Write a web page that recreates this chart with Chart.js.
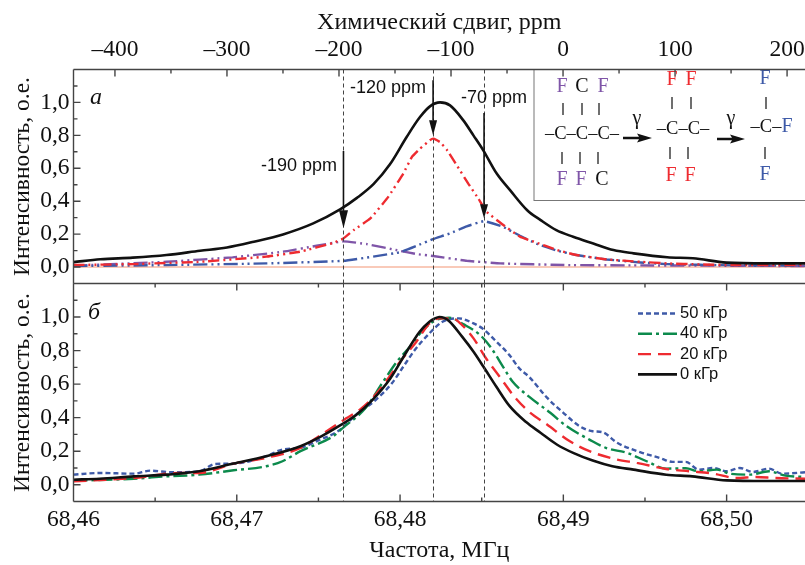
<!DOCTYPE html>
<html>
<head>
<meta charset="utf-8">
<script src="https://cdn.jsdelivr.net/npm/chart.js@4"></script>
<style>
  html, body { margin: 0; padding: 0; background: #fff; overflow: hidden; }
  canvas { position: absolute; left: 0; }
  #panelA { top: 0; }
  #panelB { top: 283px; }
</style>
</head>
<body>
<canvas id="panelA" width="805" height="284"></canvas>
<canvas id="panelB" width="805" height="282"></canvas>
<script>
// panel a: chemical shift, ppm
const ppmTotal = [-437, -413, -384, -354, -324, -300, -276, -250, -223, -199, -184, -169, -154.5, -139.6, -127.7, -118.8, -109.8, -100.9, -89, -80, -71.2, -59.2, -47.3, -32, -20, -6, 9, 27, 45, 63, 93, 116, 146, 182, 216];
const valTotal = [0.03, 0.047, 0.057, 0.073, 0.099, 0.119, 0.154, 0.198, 0.265, 0.35, 0.42, 0.505, 0.624, 0.79, 0.911, 0.976, 1.0, 0.982, 0.891, 0.8, 0.709, 0.568, 0.467, 0.345, 0.285, 0.224, 0.184, 0.143, 0.103, 0.083, 0.059, 0.053, 0.027, 0.022, 0.022];

const ppmMid = [-437, -383, -324, -265, -235, -205, -196, -187, -172, -156, -142.6, -135, -127.7, -118.8, -115.8, -109.8, -103.8, -94.9, -84.6, -75.6, -68.1, -53.3, -38.4, -26, -5, 12, 39, 69, 93, 122, 152, 216];
const valMid = [0.012, 0.018, 0.032, 0.063, 0.093, 0.147, 0.174, 0.224, 0.295, 0.426, 0.568, 0.668, 0.719, 0.77, 0.78, 0.759, 0.713, 0.618, 0.507, 0.416, 0.335, 0.255, 0.184, 0.154, 0.103, 0.073, 0.046, 0.032, 0.022, 0.016, 0.012, 0.012];

const ppmLow = [-437, -354, -265, -196, -146, -131, -116, -101, -86, -70.5, -53.6, -38.4, -23, -5, 12, 39, 69, 93, 152, 216];
const valLow = [0.006, 0.012, 0.022, 0.038, 0.089, 0.128, 0.17, 0.204, 0.247, 0.279, 0.244, 0.19, 0.14, 0.099, 0.073, 0.046, 0.028, 0.018, 0.01, 0.008];

const ppmHigh = [-437, -354, -295, -250, -220, -196, -175, -146, -131, -116, -86, -56, 3, 63, 152, 216];
const valHigh = [0.008, 0.032, 0.059, 0.093, 0.129, 0.156, 0.139, 0.099, 0.079, 0.067, 0.038, 0.022, 0.012, 0.01, 0.008, 0.006];

const zeroPpm = [-437, 216];
const zeroVal = [0, 0];

// panel b: frequency, MHz
const freq0 = [68.46, 68.4616, 68.4637, 68.4657, 68.4677, 68.4698, 68.4718, 68.4739, 68.4752, 68.4763, 68.4773, 68.4783, 68.4794, 68.4804, 68.4812, 68.4818, 68.4821, 68.4824, 68.4827, 68.483, 68.4838, 68.4845, 68.4851, 68.4859, 68.4867, 68.4877, 68.4886, 68.4896, 68.4906, 68.4918, 68.493, 68.4943, 68.4963, 68.4979, 68.5, 68.5024, 68.5048];
const val0 = [0.03, 0.036, 0.05, 0.06, 0.08, 0.126, 0.17, 0.23, 0.29, 0.352, 0.416, 0.505, 0.634, 0.793, 0.912, 0.972, 0.99, 1.0, 0.995, 0.976, 0.883, 0.793, 0.705, 0.584, 0.47, 0.375, 0.31, 0.24, 0.19, 0.144, 0.11, 0.09, 0.06, 0.05, 0.026, 0.022, 0.022];

const freq20 = [68.46, 68.4637, 68.4665, 68.4677, 68.4698, 68.4718, 68.4739, 68.4752, 68.4767, 68.4775, 68.4783, 68.4792, 68.48, 68.481, 68.4818, 68.4824, 68.4832, 68.4838, 68.4845, 68.4852, 68.4861, 68.487, 68.4879, 68.489, 68.4904, 68.4916, 68.4933, 68.4945, 68.4963, 68.4977, 68.4992, 68.5006, 68.5018, 68.503, 68.5048];
const val20 = [0.02, 0.04, 0.07, 0.07, 0.126, 0.16, 0.22, 0.3, 0.396, 0.445, 0.515, 0.624, 0.733, 0.853, 0.962, 0.992, 0.992, 0.952, 0.873, 0.763, 0.644, 0.525, 0.435, 0.359, 0.259, 0.2, 0.15, 0.13, 0.094, 0.08, 0.066, 0.04, 0.046, 0.04, 0.036];

const freq40 = [68.46, 68.4637, 68.4657, 68.4677, 68.4698, 68.4718, 68.4728, 68.4739, 68.4759, 68.4765, 68.4779, 68.4789, 68.4798, 68.4806, 68.4814, 68.4822, 68.483, 68.4839, 68.4849, 68.4856, 68.4863, 68.4869, 68.4879, 68.4892, 68.4902, 68.4916, 68.4926, 68.4939, 68.4951, 68.4963, 68.4975, 68.4983, 68.4994, 68.5002, 68.5014, 68.5026, 68.5036, 68.5048];
const val40 = [0.024, 0.036, 0.05, 0.06, 0.086, 0.11, 0.14, 0.2, 0.289, 0.339, 0.459, 0.605, 0.733, 0.823, 0.922, 0.982, 0.996, 0.956, 0.893, 0.813, 0.704, 0.614, 0.525, 0.429, 0.349, 0.269, 0.22, 0.19, 0.14, 0.096, 0.098, 0.08, 0.09, 0.066, 0.06, 0.08, 0.054, 0.046];

const freq50 = [68.46, 68.4616, 68.4637, 68.4647, 68.4661, 68.4677, 68.4687, 68.4698, 68.4718, 68.4728, 68.4739, 68.4749, 68.4763, 68.4773, 68.4785, 68.4795, 68.4802, 68.4809, 68.4818, 68.4826, 68.4836, 68.4845, 68.4851, 68.4859, 68.4867, 68.4873, 68.4879, 68.489, 68.49, 68.491, 68.4918, 68.4924, 68.4933, 68.4947, 68.4959, 68.4967, 68.4975, 68.4983, 68.4992, 68.5, 68.5008, 68.5016, 68.5026, 68.5034, 68.5048];
const val50 = [0.06, 0.07, 0.066, 0.084, 0.074, 0.08, 0.124, 0.126, 0.17, 0.21, 0.22, 0.26, 0.326, 0.416, 0.505, 0.605, 0.704, 0.803, 0.903, 0.972, 0.992, 0.962, 0.928, 0.853, 0.773, 0.694, 0.644, 0.519, 0.429, 0.349, 0.319, 0.313, 0.25, 0.194, 0.16, 0.136, 0.136, 0.09, 0.1, 0.08, 0.1, 0.076, 0.096, 0.066, 0.074];

const ppmMarks = [-196, -116, -70.5];
const ppmLabels = ['-190 ppm', '-120 ppm', '-70 ppm'];
const legendLabels = ['50 кГр', '40 кГр', '20 кГр', '0 кГр'];

const BLACK = '#111';
const RED = '#ee2b30';
const BLUE = '#3e5aa8';
const PURPLE = '#7f55a8';
const GREEN = '#0c8a4c';
const SERIF = '"Liberation Serif"';
const SANS = '"Liberation Sans"';
const AXIS = '#444';

const bands = { left: 73.5, right: 805 };

function pts(xs, ys) {
  return xs.map((x, i) => ({ x: x, y: ys[i] }));
}

function line(label, xs, ys, color, width, dash, smooth) {
  const d = {
    label: label, data: pts(xs, ys), borderColor: color, borderWidth: width,
    borderDash: dash, pointRadius: 0, tension: 0.1, fill: false,
    borderCapStyle: 'butt'
  };
  if (smooth) d.cubicInterpolationMode = 'monotone';
  return d;
}

function yTick(val) {
  const n = Math.round(val * 10);
  if (n < 0 || n > 10 || n % 2) return '';
  return (n / 10).toFixed(1).replace('.', ',');
}

function ppmTick(val) {
  if (Math.round(val) % 100) return '';
  return val < 0 ? '\u2013' + Math.abs(val) : String(val);
}

function freqTick(val) {
  if (Math.round(val * 200) % 2) return '';
  return val.toFixed(2).replace('.', ',');
}

function yScale(titleText) {
  return {
    min: -0.1, max: 1.2,
    grid: { display: false, drawTicks: false }, border: { display: false },
    ticks: { stepSize: 0.1, autoSkip: false, maxRotation: 0, padding: 4, color: BLACK, font: { family: SERIF, size: 23.5 }, callback: yTick, includeBounds: false },
    title: { display: true, text: titleText, color: BLACK, font: { family: SERIF, size: 23.5 }, padding: { top: 9, bottom: 0 } },
    afterFit: (s) => { s.width = bands.left; s.paddingTop = 0; s.paddingBottom = 0; }
  };
}

// frame and inward ticks, Chart.js only draws ticks outward
function drawFrame(chart, xAxis, yAxis) {
  const { ctx, chartArea: a } = chart;
  const sx = chart.scales[xAxis];
  const sy = chart.scales[yAxis];
  ctx.save();
  ctx.strokeStyle = AXIS;
  ctx.lineWidth = 1.4;
  ctx.beginPath();
  ctx.moveTo(a.left, a.top); ctx.lineTo(a.right + 2, a.top);
  ctx.moveTo(a.left, a.top); ctx.lineTo(a.left, a.bottom);
  ctx.moveTo(a.left, a.bottom); ctx.lineTo(a.right + 2, a.bottom);
  sy.ticks.forEach((t, i) => {
    const py = sy.getPixelForTick(i);
    ctx.moveTo(a.left, py); ctx.lineTo(a.left + (t.label ? 7 : 4), py);
  });
  sx.ticks.forEach((t, i) => {
    const px = sx.getPixelForTick(i);
    const len = t.label ? 7 : 4;
    if (xAxis === 'xTop') {
      ctx.moveTo(px, a.top); ctx.lineTo(px, a.top + len);
    } else {
      ctx.moveTo(px, a.bottom); ctx.lineTo(px, a.bottom - len);
      ctx.moveTo(px, a.top); ctx.lineTo(px, a.top + len);
    }
  });
  ctx.stroke();
  ctx.restore();
}

function drawMarks(chart, sx) {
  const { ctx, chartArea: a } = chart;
  ctx.save();
  ctx.strokeStyle = '#444';
  ctx.lineWidth = 1;
  ctx.setLineDash([4, 3]);
  ppmMarks.forEach((p) => {
    const px = Math.round(sx(p)) + 0.5;
    ctx.beginPath(); ctx.moveTo(px, a.top); ctx.lineTo(px, a.bottom); ctx.stroke();
  });
  ctx.restore();
}

function arrow(ctx, x, y0, y1, hw, hl) {
  ctx.strokeStyle = BLACK; ctx.fillStyle = BLACK; ctx.lineWidth = 1.6;
  ctx.beginPath(); ctx.moveTo(x, y0); ctx.lineTo(x, y1 - hl); ctx.stroke();
  ctx.beginPath(); ctx.moveTo(x - hw, y1 - hl); ctx.lineTo(x + hw, y1 - hl); ctx.lineTo(x, y1); ctx.closePath(); ctx.fill();
}

function sideArrow(ctx, x0, x1, y) {
  ctx.fillStyle = BLACK;
  ctx.beginPath();
  ctx.moveTo(x0, y - 1.2); ctx.lineTo(x1 - 13, y - 1.2); ctx.lineTo(x1 - 15, y - 4.5);
  ctx.lineTo(x1, y); ctx.lineTo(x1 - 15, y + 4.5); ctx.lineTo(x1 - 13, y + 1.2); ctx.lineTo(x0, y + 1.2);
  ctx.closePath(); ctx.fill();
}

function drawScheme(ctx) {
  ctx.save();
  ctx.strokeStyle = '#777'; ctx.lineWidth = 1;
  ctx.fillStyle = '#fff';
  ctx.fillRect(534, 69, 272, 131.5);
  ctx.strokeRect(534, 69.5, 273, 131);
  ctx.textAlign = 'center'; ctx.textBaseline = 'middle';
  const glyphs = [
    ['F', 562, 87, PURPLE], ['C', 582, 87, BLACK], ['F', 603, 87, PURPLE],
    ['F', 562, 180, PURPLE], ['F', 581, 180, PURPLE], ['C', 602, 180, BLACK],
    ['F', 672, 80, RED], ['F', 691, 80, RED],
    ['F', 671, 176, RED], ['F', 690, 176, RED],
    ['F', 765, 79, BLUE],
    ['F', 787, 127, BLUE],
    ['F', 765, 175, BLUE],
    ['\u03b3', 637, 119, BLACK], ['\u03b3', 731, 119, BLACK]
  ];
  ctx.font = '20px ' + SERIF;
  glyphs.forEach(([s, x, y, c]) => { ctx.fillStyle = c; ctx.fillText(s, x, y); });
  const chains = [['\u2013C\u2013C\u2013C\u2013', 582, 134], ['\u2013C\u2013C\u2013', 683, 129], ['\u2013C\u2013', 766, 127]];
  ctx.font = '18.5px ' + SERIF;
  ctx.fillStyle = BLACK;
  chains.forEach(([s, x, y]) => ctx.fillText(s, x, y));
  ctx.strokeStyle = '#333'; ctx.lineWidth = 1.4;
  const bars = [[563, 109], [582, 109], [599, 109], [562, 158], [580, 158], [598, 158], [672, 103], [691, 103], [670, 153], [688, 153], [766, 103], [765, 153]];
  ctx.beginPath();
  bars.forEach(([x, y]) => { ctx.moveTo(x, y - 6); ctx.lineTo(x, y + 6); });
  ctx.stroke();
  sideArrow(ctx, 623, 652, 138);
  sideArrow(ctx, 717, 745, 139);
  ctx.restore();
}

const panelAPlugin = {
  id: 'panelA',
  afterDraw(chart) {
    const { ctx, scales } = chart;
    const sx = (v) => scales.xTop.getPixelForValue(v);
    const sy = (v) => scales.y.getPixelForValue(v);
    drawMarks(chart, sx);
    drawScheme(ctx);
    drawFrame(chart, 'xTop', 'y');
    ctx.save();
    arrow(ctx, sx(ppmMarks[0]), sy(0.705), sy(0.236), 4.5, 18);
    arrow(ctx, sx(ppmMarks[1]), sy(1.135), sy(0.8), 4, 15);
    arrow(ctx, sx(ppmMarks[2]), sy(0.935), sy(0.297), 4, 14);
    ctx.fillStyle = BLACK;
    ctx.textBaseline = 'middle';
    ctx.font = '18px ' + SANS;
    ctx.fillText(ppmLabels[0], 261, 166);
    ctx.fillText(ppmLabels[1], 350, 88);
    ctx.fillText(ppmLabels[2], 461, 98);
    ctx.font = 'italic 24px ' + SERIF;
    ctx.fillText('\u0430', 90, 98);
    ctx.restore();
  }
};

const panelBPlugin = {
  id: 'panelB',
  afterDraw(chart) {
    const { ctx } = chart;
    // same ppm positions as the top panel, converted through pixel scale
    const sx = (p) => 563 + p * 1.12;
    drawMarks(chart, sx);
    drawFrame(chart, 'x', 'y');
    ctx.save();
    ctx.fillStyle = BLACK;
    ctx.textBaseline = 'middle';
    ctx.font = 'italic 24px ' + SERIF;
    ctx.fillText('\u0431', 88, 30);
    const entries = chart.data.datasets.slice().reverse();
    entries.forEach((ds, i) => {
      const y = 30.5 + i * 20.3;
      ctx.strokeStyle = ds.borderColor;
      ctx.lineWidth = ds.borderWidth;
      ctx.setLineDash(ds.borderDash || []);
      ctx.beginPath(); ctx.moveTo(638, y); ctx.lineTo(677, y); ctx.stroke();
      ctx.fillStyle = BLACK;
      ctx.font = '16.5px ' + SANS;
      ctx.fillText(legendLabels[i], 680, y);
    });
    ctx.restore();
  }
};

new Chart(document.getElementById('panelA').getContext('2d'), {
  type: 'line',
  data: {
    datasets: [
      line('total', ppmTotal, valTotal, BLACK, 2.6, undefined, true),
      line('-120', ppmMid, valMid, RED, 2.4, [11, 4, 2, 4, 2, 4]),
      line('-70', ppmLow, valLow, BLUE, 2.4, [14, 4, 2, 4, 2, 4]),
      line('-190', ppmHigh, valHigh, PURPLE, 2.4, [14, 4, 2, 4, 2, 4]),
      line('zero', zeroPpm, zeroVal, '#f7b8a2', 1.6)
    ].map((d) => Object.assign(d, { xAxisID: 'xTop', yAxisID: 'y' }))
  },
  options: {
    responsive: false, animation: false, parsing: false, normalized: true,
    layout: { padding: { bottom: 0.5 } },
    plugins: { legend: { display: false }, tooltip: { enabled: false } },
    scales: {
      xTop: {
        type: 'linear', position: 'top', min: -437, max: 216,
        grid: { display: false, drawTicks: false }, border: { display: false },
        ticks: { stepSize: 50, autoSkip: false, maxRotation: 0, padding: 6, includeBounds: false, color: BLACK, font: { family: SERIF, size: 23.5 }, callback: ppmTick },
        title: { display: true, text: 'Химический сдвиг, ppm', color: BLACK, font: { family: SERIF, size: 24 }, padding: { top: 8, bottom: 0 } },
        afterFit: (s) => { s.height = 69.5; s.paddingLeft = 0; s.paddingRight = 0; }
      },
      y: yScale('Интенсивность, о.е.')
    }
  },
  plugins: [panelAPlugin]
});

new Chart(document.getElementById('panelB').getContext('2d'), {
  type: 'line',
  data: {
    datasets: [
      line('0 кГр', freq0, val0, BLACK, 2.6, undefined, true),
      line('20 кГр', freq20, val20, RED, 2.4, [13, 7], true),
      line('40 кГр', freq40, val40, GREEN, 2.4, [14, 4, 3, 4], true),
      line('50 кГр', freq50, val50, BLUE, 2.4, [5, 3], true)
    ]
  },
  options: {
    responsive: false, animation: false, parsing: false, normalized: true,
    layout: { padding: { top: 0.5 } },
    plugins: { legend: { display: false }, tooltip: { enabled: false } },
    scales: {
      x: {
        type: 'linear', position: 'bottom', min: 68.46, max: 68.5048,
        grid: { display: false, drawTicks: false }, border: { display: false },
        ticks: { stepSize: 0.005, autoSkip: false, maxRotation: 0, padding: 4, includeBounds: false, color: BLACK, font: { family: SERIF, size: 23.5 }, callback: freqTick },
        title: { display: true, text: 'Частота, МГц', color: BLACK, font: { family: SERIF, size: 24 }, padding: { top: -4, bottom: 0 } },
        afterFit: (s) => { s.height = 63.5; s.paddingLeft = 0; s.paddingRight = 0; }
      },
      y: yScale('Интенсивность, о.е.')
    }
  },
  plugins: [panelBPlugin]
});
</script>
</body>
</html>
